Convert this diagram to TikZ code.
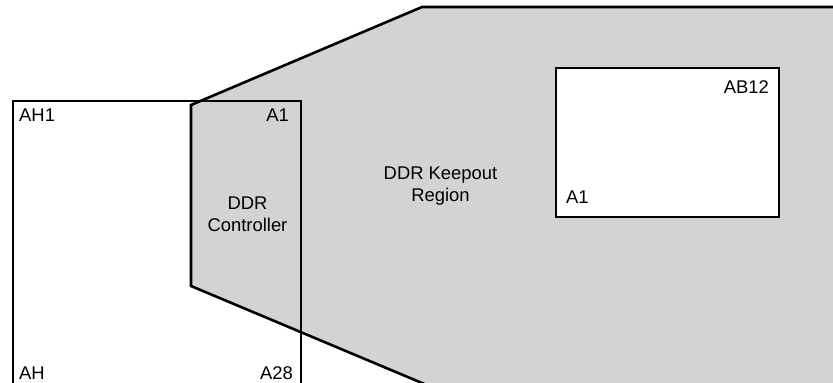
\documentclass[tikz,border=0pt]{standalone}
\usepackage{fontspec}
\setmainfont{Liberation Sans}
\definecolor{keepgray}{HTML}{D3D3D3}
\begin{document}
\begin{tikzpicture}[x=1pt,y=1pt,
  outline/.style={draw=black,line width=2.6pt,line join=miter},
  lbl/.style={inner sep=0pt,font=\fontsize{18.4}{22.5}\selectfont},
  ctr/.style={lbl,align=center}]
\useasboundingbox (0,0) rectangle (833,383);
% keepout region
\fill[keepgray] (191,97) -- (191,278) -- (422,376) -- (845,376) -- (845,-8) -- (441,-8) -- cycle;
\draw[outline] (845,376) -- (422,376) -- (191,278) -- (191,97) -- (441,-8);
% processor outline
\draw[outline] (13,-10) -- (13,282) -- (301,282) -- (301,-10);
% DDR device
\draw[outline,fill=white] (556,166) rectangle (779,315);
% labels
\node[lbl,anchor=base west] (ah1) at (19,261) {AH1};
\node[lbl,anchor=base east] (a1l) at (289,261) {A1};
\node[lbl,anchor=base west] (ah) at (19,3) {AH};
\node[lbl,anchor=base east] (a28) at (293,3) {A28};
\node[lbl,anchor=base east] (ab12) at (769,289) {AB12};
\node[lbl,anchor=base west] (a1r) at (566,179) {A1};
\node[ctr,anchor=base] (ctrl) at (247.5,151.3) {DDR\\Controller};
\node[ctr,anchor=base] (keep) at (440.5,181.3) {DDR Keepout\\Region};
\end{tikzpicture}
\end{document}
